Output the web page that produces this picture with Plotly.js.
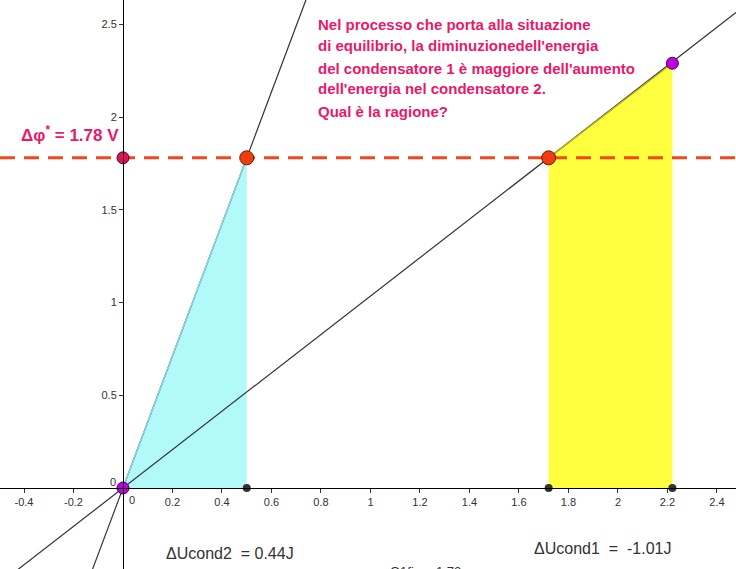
<!DOCTYPE html>
<html><head><meta charset="utf-8">
<script src="https://cdn.plot.ly/plotly-3.0.1.min.js"></script>
<style>html,body{margin:0;padding:0;background:#fff;overflow:hidden}#chart{width:736px;height:569px}</style>
</head><body><div id="chart"></div>
<script>
// ---- data ----
const phiStar = 1.78;        // final common potential difference (V)
const q2Final = 0.5;         // final charge on capacitor 2
const q1Final = 1.72;        // final charge on capacitor 1
const q1Initial = 2.22;      // initial charge on capacitor 1
const v1Initial = 2.29;      // initial voltage of capacitor 1
const xTicks = [-0.4, -0.2, 0.2, 0.4, 0.6, 0.8, 1, 1.2, 1.4, 1.6, 1.8, 2, 2.2, 2.4];
const xTickLabels = ["-0.4", "-0.2", "0.2", "0.4", "0.6", "0.8", "1", "1.2", "1.4", "1.6", "1.8", "2", "2.2", "2.4"];
const yTicks = [0.5, 1, 1.5, 2, 2.5];
const yTickLabels = ["0.5", "1", "1.5", "2", "2.5"];
const messageLines = [
  "Nel processo che porta alla situazione",
  "di equilibrio, la diminuzionedell'energia",
  "del condensatore 1 è maggiore dell'aumento",
  "dell'energia nel condensatore 2.",
  "Qual è la ragione?"
];
const phiLabel = "Δφ<sup>*</sup> = 1.78 V";
const deltaU2Label = "ΔUcond2 &nbsp;= 0.44J";
const deltaU1Label = "ΔUcond1 &nbsp;= &nbsp;-1.01J";
const q1FinLabel = "Q1fin = 1.72";

// ---- view ----
const W = 736, H = 569;
const xRange = [-0.497, 2.477];
const yRange = [-0.4367, 2.631];
const xAxisPos = (0 - yRange[0]) / (yRange[1] - yRange[0]);
const yAxisPos = (0 - xRange[0]) / (xRange[1] - xRange[0]);
const px = v => v / W;
const py = v => 1 - v / H;

const slope1 = phiStar / q1Final;
const slope2 = phiStar / q2Final;

const pink = '#e8196a';
const traces = [];

// energy areas
traces.push({type: 'scatter', mode: 'lines', x: [0, q2Final, q2Final, 0], y: [0, phiStar, 0, 0],
  fill: 'toself', fillcolor: '#b2fafa', line: {width: 0}, hoverinfo: 'skip'});
traces.push({type: 'scatter', mode: 'lines', x: [q1Final, q1Final, q1Initial, q1Initial, q1Final], y: [0, phiStar, v1Initial, 0, 0],
  fill: 'toself', fillcolor: '#ffff40', line: {width: 0}, hoverinfo: 'skip'});

// slanted characteristic lines
[slope1, slope2].forEach(s => traces.push({
  type: 'scatter', mode: 'lines', x: [xRange[0], xRange[1]], y: [s * xRange[0], s * xRange[1]],
  line: {color: '#333', width: 1.2}, hoverinfo: 'skip'
}));

// tinted edges along the lines
traces.push({type: 'scatter', mode: 'lines', x: [0, q2Final], y: [0, phiStar], line: {color: '#8fd6e4', width: 1.4}, hoverinfo: 'skip'});
traces.push({type: 'scatter', mode: 'lines', x: [q1Final, q1Initial], y: [phiStar, v1Initial], line: {color: '#b8b820', width: 1.4}, hoverinfo: 'skip'});

// dashed equilibrium line
traces.push({type: 'scatter', mode: 'lines', x: [xRange[0], xRange[1]], y: [phiStar, phiStar],
  line: {color: '#f4471c', width: 3, dash: '15px,9px'}, hoverinfo: 'skip'});

// small dark points on x axis
traces.push({type: 'scatter', mode: 'markers', x: [q2Final, q1Final, q1Initial], y: [0, 0, 0],
  marker: {color: '#333', size: 8}, cliponaxis: false, hoverinfo: 'skip'});
// pink point on y axis
traces.push({type: 'scatter', mode: 'markers', x: [0], y: [phiStar],
  marker: {color: '#e0105e', size: 12, line: {color: '#5a0020', width: 1}}, cliponaxis: false, hoverinfo: 'skip'});
// orange equilibrium points
traces.push({type: 'scatter', mode: 'markers', x: [q2Final, q1Final], y: [phiStar, phiStar],
  marker: {color: '#f03c10', size: 14, line: {color: '#6a1a00', width: 1}}, cliponaxis: false, hoverinfo: 'skip'});
// purple points
traces.push({type: 'scatter', mode: 'markers', x: [0, q1Initial], y: [0, v1Initial],
  marker: {color: '#c000e0', size: 12, line: {color: '#4a0050', width: 1}}, cliponaxis: false, hoverinfo: 'skip'});

const annotations = [];
messageLines.forEach((t, i) => annotations.push({
  xref: 'paper', yref: 'paper', x: px(316), y: py([24, 46, 68, 89, 111][i]), xanchor: 'left', yanchor: 'middle',
  text: '<b>' + t + '</b>', showarrow: false, font: {size: 15, color: pink}
}));
annotations.push({xref: 'paper', yref: 'paper', x: px(19), y: py(134), xanchor: 'left', yanchor: 'middle',
  text: '<b>' + phiLabel + '</b>', showarrow: false, font: {size: 17, color: pink}});
annotations.push({xref: 'paper', yref: 'paper', x: px(164), y: py(553), xanchor: 'left', yanchor: 'middle',
  text: deltaU2Label, showarrow: false, font: {size: 16, color: '#333'}});
annotations.push({xref: 'paper', yref: 'paper', x: px(532), y: py(548), xanchor: 'left', yanchor: 'middle',
  text: deltaU1Label, showarrow: false, font: {size: 16, color: '#333'}});
annotations.push({xref: 'paper', yref: 'paper', x: px(388), y: py(571), xanchor: 'left', yanchor: 'middle',
  text: q1FinLabel, showarrow: false, font: {size: 13, color: '#333'}});
annotations.push({xref: 'paper', yref: 'paper', x: px(113), y: py(482), xanchor: 'center', yanchor: 'middle',
  text: '0', showarrow: false, font: {size: 11, color: '#333'}});
annotations.push({xref: 'paper', yref: 'paper', x: px(132), y: py(500), xanchor: 'center', yanchor: 'middle',
  text: '0', showarrow: false, font: {size: 11, color: '#333'}});

const layout = {
  width: W, height: H,
  margin: {l: 0, r: 0, t: 0, b: 0, pad: 0},
  paper_bgcolor: '#fff', plot_bgcolor: '#fff',
  showlegend: false, hovermode: false,
  font: {family: 'Liberation Sans, Arial, sans-serif', color: '#333'},
  xaxis: {range: xRange, anchor: 'free', position: xAxisPos, showline: true, linecolor: '#000', linewidth: 1,
    showgrid: false, zeroline: false, tickmode: 'array', tickvals: xTicks, ticktext: xTickLabels,
    ticks: 'outside', ticklen: 4, tickcolor: '#333', tickfont: {size: 11, color: '#333'}, fixedrange: true},
  yaxis: {range: yRange, anchor: 'free', position: yAxisPos, showline: true, linecolor: '#000', linewidth: 1,
    showgrid: false, zeroline: false, tickmode: 'array', tickvals: yTicks, ticktext: yTickLabels,
    ticks: 'outside', ticklen: 4, tickcolor: '#333', tickfont: {size: 11, color: '#333'}, fixedrange: true},
  annotations: annotations
};

Plotly.newPlot('chart', traces, layout, {displayModeBar: false, staticPlot: true});
</script>
</body></html>
